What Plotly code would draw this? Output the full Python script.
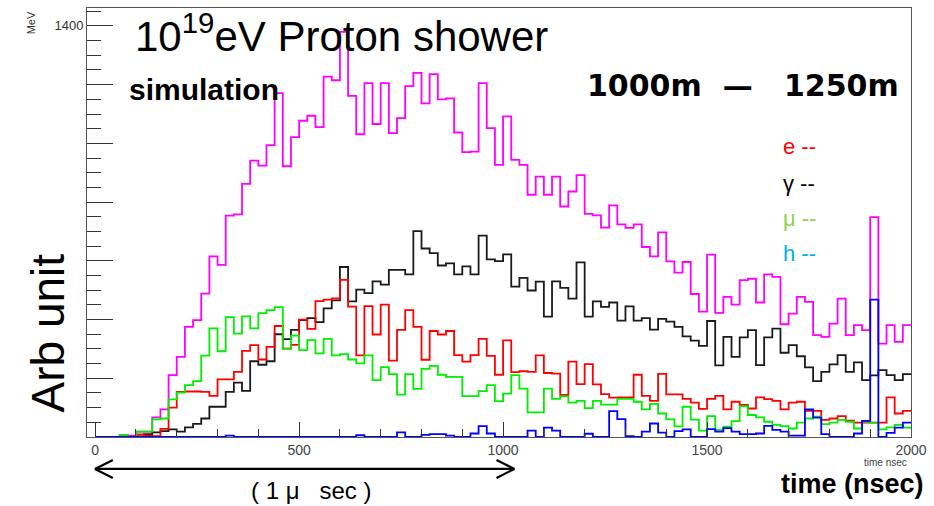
import plotly.graph_objects as go

# ---------------- data (20 ns bins from 0 to 2000 ns) ----------------
bin_width = 20
n_bins = 100

total = [0, 0, 0, 7, 5, 18, 18, 67, 94, 211,
         273, 375, 398, 488, 615, 586, 754, 758, 862, 941,
         924, 994, 1171, 922, 1021, 1077, 1094, 1055, 1227, 1215,
         1380, 1162, 1031, 1205, 1066, 1205, 1035, 1086, 1195, 1240,
         1136, 1236, 1150, 1153, 1037, 970, 972, 1205, 1052, 927,
         1092, 944, 927, 825, 887, 825, 887, 785, 836, 892,
         760, 755, 713, 789, 724, 712, 724, 647, 615, 697,
         598, 560, 596, 487, 427, 621, 423, 477, 451, 534,
         539, 458, 554, 545, 384, 420, 477, 460, 347, 341,
         386, 471, 347, 381, 364, 749, 318, 381, 324, 381]

gamma = [0, 0, 0, 0, 0, 8, 10, 16, 20, 26,
         18, 33, 45, 63, 103, 103, 154, 185, 157, 258,
         246, 258, 350, 333, 365, 398, 405, 391, 438, 465,
         579, 462, 502, 490, 530, 519, 569, 569, 554, 701,
         642, 626, 584, 591, 554, 581, 554, 686, 605, 599,
         622, 512, 542, 499, 529, 410, 530, 508, 471, 595,
         410, 462, 443, 458, 396, 445, 396, 405, 366, 402,
         393, 375, 343, 328, 310, 395, 244, 341, 273, 339,
         364, 245, 339, 369, 287, 313, 275, 237, 190, 222,
         247, 279, 222, 254, 194, 210, 228, 211, 194, 214]

electron = [0, 0, 0, 0, 0, 8, 5, 3, 28, 100,
            154, 155, 155, 154, 140, 196, 196, 222, 293, 313,
            264, 307, 378, 301, 314, 400, 368, 463, 468, 472,
            535, 444, 278, 446, 349, 451, 260, 365, 432, 375,
            263, 361, 349, 361, 279, 257, 279, 334, 276, 212,
            329, 221, 224, 222, 278, 218, 216, 143, 257, 180,
            248, 179, 146, 134, 135, 135, 212, 140, 123, 215,
            145, 145, 130, 117, 96, 130, 140, 94, 120, 109,
            97, 135, 129, 123, 94, 117, 120, 89, 89, 58,
            63, 71, 56, 49, 49, 49, 49, 135, 80, 89]

muon = [0, 0, 0, 7, 0, 18, 18, 60, 63, 128,
        151, 177, 190, 277, 370, 292, 408, 352, 411, 370,
        422, 432, 442, 301, 345, 296, 330, 285, 334, 278,
        282, 264, 251, 278, 194, 238, 214, 144, 214, 164,
        232, 242, 212, 205, 205, 139, 139, 156, 177, 122,
        148, 211, 165, 84, 84, 165, 130, 139, 117, 123,
        98, 123, 110, 110, 130, 130, 120, 94, 113, 80,
        60, 36, 103, 59, 22, 71, 24, 35, 54, 105,
        75, 67, 52, 41, 37, 29, 49, 63, 69, 44,
        49, 58, 52, 29, 52, 49, 26, 33, 41, 32]

hadron = [0, 0, 0, 0, 0, 0, 0, 0, 0, 0,
          0, 0, 0, 0, 0, 0, 5, 0, 0, 0,
          0, 0, 0, 0, 0, 0, 0, 0, 0, 0,
          0, 0, 6, 0, 0, 0, 0, 16, 0, 0,
          7, 10, 10, 5, 0, 0, 12, 37, 12, 0,
          0, 0, 0, 22, 0, 32, 22, 0, 0, 0,
          11, 0, 0, 88, 61, 3, 0, 18, 46, 15,
          0, 20, 26, 0, 0, 27, 18, 30, 18, 10,
          10, 12, 38, 24, 18, 5, 5, 94, 66, 10,
          0, 0, 0, 12, 55, 468, 0, 14, 32, 49]

x_tick_labels = ["0", "500", "1000", "1500", "2000"]
y_major = [0, 200, 400, 600, 800, 1000, 1200, 1400]
y_labels = ["", "", "", "", "", "", "", "1400"]

series = [
    ("total", total, "#ff00ff"),
    ("gamma", gamma, "#1a1a1a"),
    ("e", electron, "#ff0000"),
    ("mu", muon, "#00ee00"),
    ("h", hadron, "#0000ff"),
]

edges = [i * bin_width for i in range(n_bins + 1)]

fig = go.Figure()
for name, vals, col in series:
    fig.add_trace(go.Scatter(
        x=edges, y=list(vals) + [vals[-1]],
        mode="lines", line=dict(color=col, width=1.8, shape="hv"),
        name=name, showlegend=False, hoverinfo="skip"))

W, H = 934, 506
L, R, T, B = 87, 18, 7, 69
PW, PH = W - L - R, H - T - B


def px(x):
    return (x - L) / PW


def py(y):
    return (H - B - y) / PH


fig.update_layout(
    width=W, height=H,
    margin=dict(l=L, r=R, t=T, b=B),
    paper_bgcolor="white", plot_bgcolor="white",
    showlegend=False,
    font=dict(family="Liberation Sans, Arial, sans-serif", color="#000"),
    xaxis=dict(
        range=[-20, 2000], showgrid=False, zeroline=False,
        showline=True, linecolor="#555", linewidth=1, mirror=True,
        ticks="inside", ticklen=15, tickcolor="#333", tickwidth=1,
        tickvals=[0, 500, 1000, 1500, 2000], ticktext=x_tick_labels,
        tickfont=dict(size=14, color="#444"),
        minor=dict(ticks="inside", ticklen=8, dtick=100, tick0=0,
                   tickcolor="#333", tickwidth=1),
    ),
    yaxis=dict(
        range=[0, 1461], showgrid=False, zeroline=False,
        showline=True, linecolor="#555", linewidth=1, mirror=True,
        ticks="inside", ticklen=26, tickcolor="#333", tickwidth=1,
        tickvals=y_major, ticktext=y_labels,
        tickfont=dict(size=13, color="#333"),
        minor=dict(ticks="inside", ticklen=14, dtick=50, tick0=0,
                   tickcolor="#333", tickwidth=1),
    ),
)

ann = []


def add_text(text, x, y, size, color="#000", xanchor="left", yanchor="middle",
             angle=0, family="Liberation Sans, Arial, sans-serif"):
    ann.append(dict(text=text, x=px(x), y=py(y), xref="paper", yref="paper",
                    xanchor=xanchor, yanchor=yanchor, showarrow=False,
                    textangle=angle, font=dict(size=size, color=color, family=family)))


add_text("10<sup>19</sup>eV Proton shower", 133, 32, 42)
add_text("<b>simulation</b>", 127, 89, 30)
add_text("<b>1000m\u00a0\u00a0—\u00a0\u00a0\u00a01250m</b>", 588, 85, 30,
         family="DejaVu Sans, sans-serif")
add_text("e --", 785, 146, 22, color="#ff0000")
add_text("γ --", 785, 183, 22, color="#000000")
add_text("μ --", 785, 218, 22, color="#92d050")
add_text("h --", 785, 253, 22, color="#00b0f0")
add_text("Arb unit", 48, 333, 46, angle=-90, xanchor="center", yanchor="middle")
add_text("MeV", 31, 22, 11, color="#333", angle=-90, xanchor="center")
add_text("time nsec", 914, 463, 10, color="#444", xanchor="right")
add_text("<b>time (nsec)</b>", 931, 484, 27, xanchor="right")
add_text("(\u00a01\u00a0μ\u00a0\u00a0\u00a0sec\u00a0)", 313, 491, 24, xanchor="center")

fig.update_layout(annotations=ann)

# double-headed arrow marking 1 microsecond
ay = 469
arrow = [
    (95, ay, 517, ay),
    (95, ay, 113, ay - 9), (95, ay, 113, ay + 9),
    (517, ay, 499, ay - 9), (517, ay, 499, ay + 9),
]
shapes = []
for x0, y0, x1, y1 in arrow:
    shapes.append(dict(type="line", xref="paper", yref="paper",
                       x0=px(x0), y0=py(y0), x1=px(x1), y1=py(y1),
                       line=dict(color="black", width=2.2)))
fig.update_layout(shapes=shapes)

fig.write_html("out.html")
